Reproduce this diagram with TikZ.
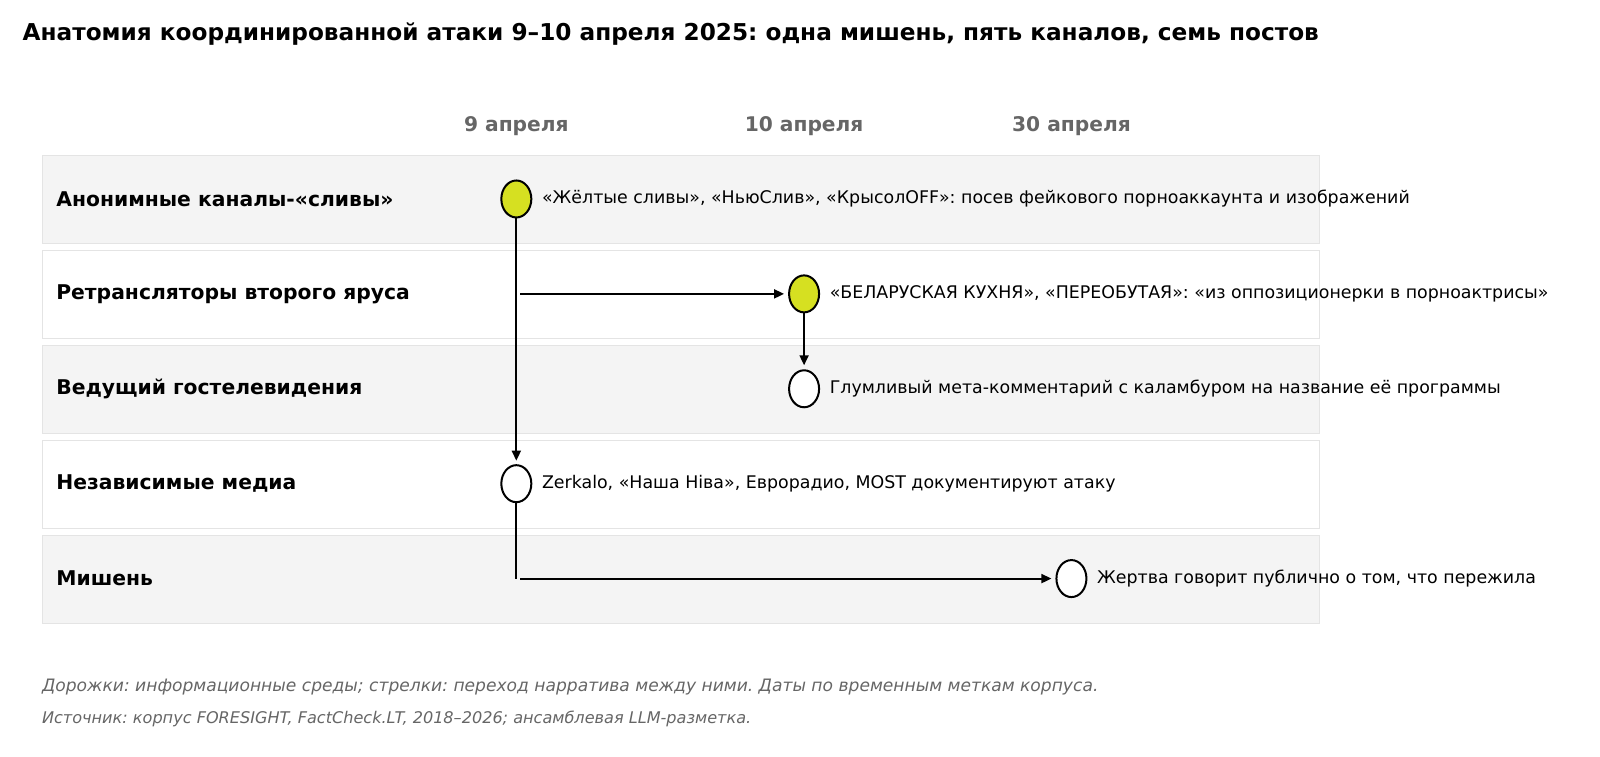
\documentclass[tikz,border=0pt]{standalone}
\usepackage{fontspec}
\setmainfont{DejaVu Sans}
\usetikzlibrary{shapes.geometric,arrows.meta}
\definecolor{lanegray}{HTML}{F4F4F4}
\definecolor{laneline}{HTML}{E4E4E4}
\definecolor{evyellow}{HTML}{D6E021}
\definecolor{txtgray}{HTML}{666666}
\tikzset{
  lane/.style={draw=laneline, line width=0.9pt, minimum width=1277.6pt, minimum height=87.8pt, inner sep=0pt, anchor=north west},
  lanelabel/.style={anchor=west, inner sep=0pt, font=\bfseries\fontsize{20.3}{24}\selectfont},
  datehead/.style={inner sep=0pt, text=txtgray, font=\bfseries\fontsize{20.2}{24}\selectfont},
  ev/.style={ellipse, draw=black, line width=2pt, minimum width=30pt, minimum height=37pt, inner sep=0pt},
  evfill/.style={ev, fill=evyellow},
  evempty/.style={ev, fill=white},
  evtext/.style={anchor=west, inner sep=0pt, font=\fontsize{17.4}{21}\selectfont},
  flow/.style={line width=1.9pt, -{Triangle[length=10pt,width=9pt]}},
  plainline/.style={line width=1.9pt},
  foot/.style={anchor=west, inner sep=0pt, text=txtgray, font=\itshape\fontsize{17.1}{20}\selectfont}
}
\begin{document}
\frenchspacing
\begin{tikzpicture}[x=1.0204pt,y=-1.0204pt]
\useasboundingbox (0,0) rectangle (1568,740.88);
\fill[white] (0,0) rectangle (1568,740.88);
% title
\node[anchor=west, inner sep=0pt, font=\bfseries\fontsize{23.2}{27}\selectfont] (title) at (22,33) {Анатомия координированной атаки 9–10 апреля 2025: одна мишень, пять каналов, семь постов};
% date headers
\node[datehead] (d1) at (506,124) {9 апреля};
\node[datehead] (d2) at (788,124) {10 апреля};
\node[datehead] (d3) at (1050,124) {30 апреля};
% lanes
\node[lane, fill=lanegray] (l1) at (41,152) {};
\node[lane, fill=white] (l2) at (41,245) {};
\node[lane, fill=lanegray] (l3) at (41,338) {};
\node[lane, fill=white] (l4) at (41,431) {};
\node[lane, fill=lanegray] (l5) at (41,524) {};
% lane labels
\node[lanelabel] (t1) at (55,195) {Анонимные каналы-«сливы»};
\node[lanelabel] (t2) at (55,288) {Ретрансляторы второго яруса};
\node[lanelabel] (t3) at (55,381) {Ведущий гостелевидения};
\node[lanelabel] (t4) at (55,474) {Независимые медиа};
\node[lanelabel] (t5) at (55,567) {Мишень};
% events
\node[evfill] (e1) at (506,195) {};
\node[evfill] (e2) at (788,288) {};
\node[evempty] (e3) at (788,381) {};
\node[evempty] (e4) at (506,474) {};
\node[evempty] (e5) at (1050,567) {};
\node[evtext] (x1) at (531,195) {«Жёлтые сливы», «НьюСлив», «КрысолOFF»: посев фейкового порноаккаунта и изображений};
\node[evtext] (x2) at (813,288) {«БЕЛАРУСКАЯ КУХНЯ», «ПЕРЕОБУТАЯ»: «из оппозиционерки в порноактрисы»};
\node[evtext] (x3) at (813,381) {Глумливый мета-комментарий с каламбуром на название её программы};
\node[evtext] (x4) at (531,474) {Zerkalo, «Наша Ніва», Еврорадио, MOST документируют атаку};
\node[evtext] (x5) at (1075,567) {Жертва говорит публично о том, что пережила};
% connectors
\coordinate (b2) at (510,288);
\coordinate (k5) at (506,567);
\coordinate (b5) at (510,567);
\draw[flow, shorten >=3.5pt] (e1.south) -- (e4.north);
\draw[flow, shorten >=4pt] (b2) -- (e2.west);
\draw[flow, shorten >=4pt] (e2.south) -- (e3.north);
\draw[plainline] (e4.south) -- (k5);
\draw[flow, shorten >=4pt] (b5) -- (e5.west);
% footer
\node[foot] (f1) at (41,673) {Дорожки: информационные среды; стрелки: переход нарратива между ними. Даты по временным меткам корпуса.};
\node[foot, font=\itshape\fontsize{16.1}{19}\selectfont] (f2) at (41,705) {Источник: корпус FORESIGHT, FactCheck.LT, 2018–2026; ансамблевая LLM-разметка.};
\end{tikzpicture}
\end{document}
